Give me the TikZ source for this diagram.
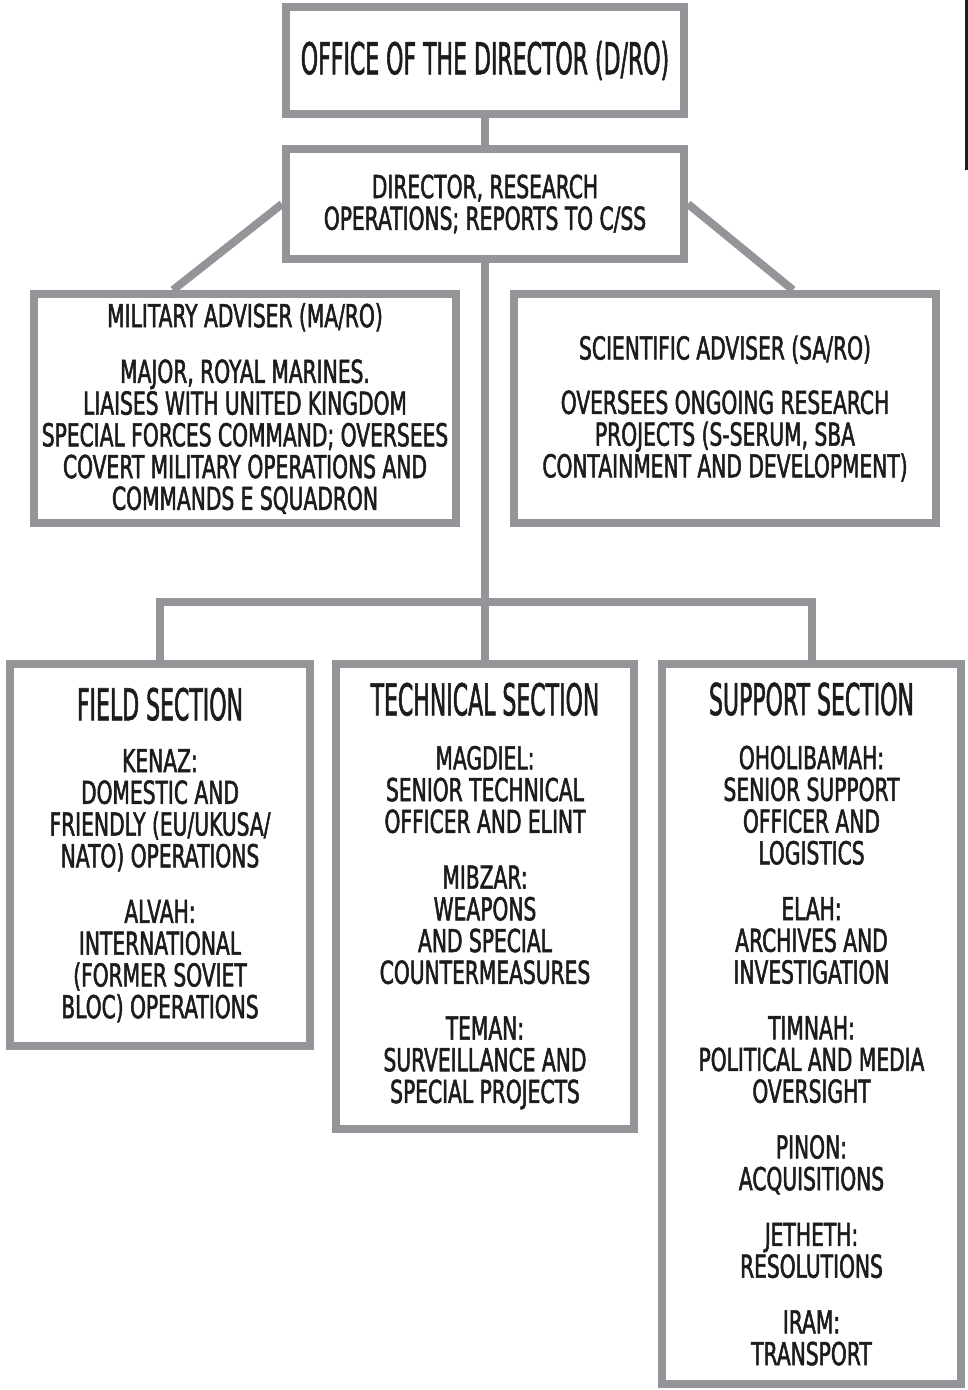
\documentclass[tikz,border=0pt]{standalone}
\usepackage{fontspec}
\usepackage{tikz}
\usetikzlibrary{calc}

\definecolor{orggray}{RGB}{147,149,152}
\definecolor{orgink}{RGB}{30,27,28}
\newfontfamily\headfont[FakeStretch=0.5,FakeBold=1.2]{DejaVu Sans}
\newfontfamily\bodyfont[FakeStretch=0.64,FakeBold=1.6]{DejaVu Sans}
\newcommand\headtext{\headfont\fontsize{33}{34}\selectfont}
\newcommand\bodytext{\bodyfont\fontsize{23.7}{23.8}\selectfont}

\begin{document}
\begin{tikzpicture}[x=0.75pt,y=-0.75pt,
        box/.style={draw=orggray,line width=6pt,fill=white,align=center,
          inner sep=0pt,text=orgink,font=\bodytext},
        link/.style={draw=orggray,line width=6pt}]

  \useasboundingbox (0,0) rectangle (968,1390);

  \node[box,font=\headtext,minimum width=298.5pt,minimum height=80.25pt] (office) at (485,60.5)
    {OFFICE OF THE DIRECTOR (D/RO)};
  \node[box,minimum width=298.5pt,minimum height=82.5pt] (dro) at (485,204)
    {DIRECTOR, RESEARCH\\OPERATIONS; REPORTS TO C/SS};
  \node[box,minimum width=316.5pt,minimum height=171.75pt] (ma) at (245,408.5)
    {MILITARY ADVISER (MA/RO)\\[18pt]
     MAJOR, ROYAL MARINES.\\LIAISES WITH UNITED KINGDOM\\SPECIAL FORCES COMMAND; OVERSEES\\
     COVERT MILITARY OPERATIONS AND\\COMMANDS E SQUADRON};
  \node[box,minimum width=316.5pt,minimum height=171.75pt] (sa) at (725,408.5)
    {SCIENTIFIC ADVISER (SA/RO)\\[17pt]
     OVERSEES ONGOING RESEARCH\\PROJECTS (S-SERUM, SBA\\CONTAINMENT AND DEVELOPMENT)};

  \node[box,minimum width=225pt,minimum height=286.5pt] (field) at (160,855)
    {{\headtext FIELD SECTION}\\[15pt]
     KENAZ:\\DOMESTIC AND\\FRIENDLY (EU/UKUSA/\\NATO) OPERATIONS\\[18pt]
     ALVAH:\\INTERNATIONAL\\(FORMER SOVIET\\BLOC) OPERATIONS};
  \node[box,minimum width=223.5pt,minimum height=348.75pt] (tech) at (485,896)
    {{\headtext TECHNICAL SECTION}\\[16.7pt]
     MAGDIEL:\\SENIOR TECHNICAL\\OFFICER AND ELINT\\[18pt]
     MIBZAR:\\WEAPONS\\AND SPECIAL\\COUNTERMEASURES\\[18pt]
     TEMAN:\\SURVEILLANCE AND\\SPECIAL PROJECTS};
  \node[box,minimum width=224.25pt,minimum height=540pt] (supp) at (811.5,1024)
    {{\headtext SUPPORT SECTION}\\[16.7pt]
     OHOLIBAMAH:\\SENIOR SUPPORT\\OFFICER AND\\LOGISTICS\\[18pt]
     ELAH:\\ARCHIVES AND\\INVESTIGATION\\[18pt]
     TIMNAH:\\POLITICAL AND MEDIA\\OVERSIGHT\\[18pt]
     PINON:\\ACQUISITIONS\\[18pt]
     JETHETH:\\RESOLUTIONS\\[18pt]
     IRAM:\\TRANSPORT};

  \coordinate (bar) at (485,602);

  % links
  \path[link] (office) -- (dro);
  \path[link] (dro) -- (tech);
  \path[link] (dro.west) -- ($(ma.north)+(-72,0)$);
  \path[link] (dro.east) -- ($(sa.north)+(68,0)$);
  \path[link] (field.north) |- (bar) -| (supp.north);

  % page edge
  \fill[orgink] (964.5,0) rectangle (968,170);

\end{tikzpicture}
\end{document}
